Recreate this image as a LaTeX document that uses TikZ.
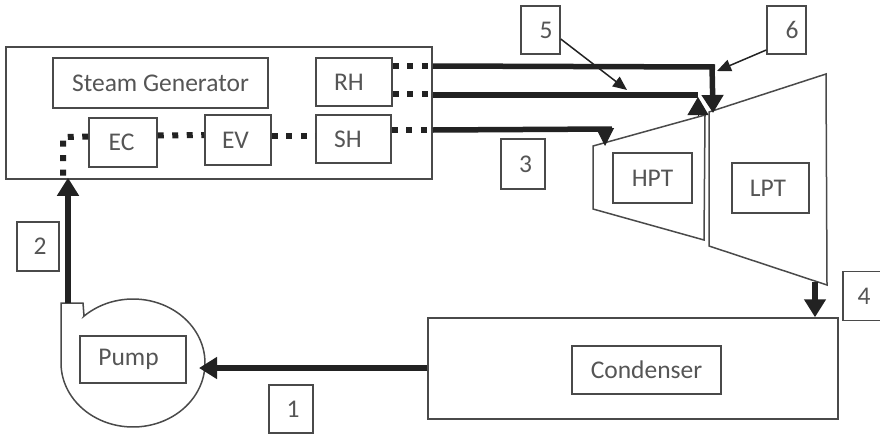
\documentclass[tikz,border=0pt]{standalone}
\usepackage{fontspec}
\setmainfont{Carlito}
\usetikzlibrary{arrows.meta,calc}
\definecolor{boxc}{HTML}{4A4A4A}
\definecolor{txtc}{HTML}{555555}
\definecolor{pipec}{HTML}{222222}
\tikzset{
 boxn/.style={draw=boxc,line width=1.5pt,inner sep=0pt,text=txtc,font=\fontsize{25.5}{28}\selectfont},
 thin outline/.style={draw=boxc,line width=1.5pt,line join=miter},
 dotpipe/.style={draw=pipec,line width=6pt,dash pattern=on 6pt off 8.5pt},
 pipe/.style={draw=pipec,line width=5.5pt},
 headed/.style={pipe,-{Triangle[width=21pt,length=18pt]}},
 pointer/.style={draw=pipec,line width=1.5pt,-{Triangle[width=12pt,length=14pt]}},
}
\begin{document}
\begin{tikzpicture}[x=1pt,y=-1pt]
\useasboundingbox (0,0) rectangle (880,434);
% outer containers
\node[boxn,minimum width=426pt,minimum height=132pt] (SG) at (219,113) {};
\node[boxn,minimum width=215pt,minimum height=50pt] (SGL) at (160.5,83) {Steam Generator};
\node[boxn,minimum width=76pt,minimum height=48pt] (RH) at (354,82) {\hspace*{-10pt}RH};
\node[boxn,minimum width=68pt,minimum height=49pt] (EC) at (123,142.5) {\hspace*{-3pt}EC};
\node[boxn,minimum width=66pt,minimum height=50pt] (EV) at (238,140) {\hspace*{-5pt}EV};
\node[boxn,minimum width=75pt,minimum height=48pt] (SH) at (353.5,139) {\hspace*{-11pt}SH};
\node[boxn,minimum width=410pt,minimum height=101pt] (CO) at (633,368.5) {};
\node[boxn,minimum width=149pt,minimum height=48pt] (COL) at (646.5,370) {Condenser};
\node[boxn,minimum width=79pt,minimum height=50pt] (HPT) at (652.5,178) {HPT};
\node[boxn,minimum width=77pt,minimum height=50pt] (LPT) at (770.5,188) {\hspace*{-5pt}LPT};
\node[boxn,minimum width=106pt,minimum height=47pt] (PU) at (133,359.5) {\hspace*{-9pt}Pump};
% number labels
\node[boxn,minimum width=44pt,minimum height=48pt] (L1) at (291,409) {\hspace*{4pt}1};
\node[boxn,minimum width=42pt,minimum height=49pt] (L2) at (38,246.5) {\hspace*{4pt}2};
\node[boxn,minimum width=44pt,minimum height=50pt] (L3) at (523,164) {\hspace*{5pt}3};
\node[boxn,minimum width=42pt,minimum height=49pt] (L4) at (864,296) {4};
\node[boxn,minimum width=39pt,minimum height=48pt] (L5) at (540.5,30) {\hspace*{11pt}5};
\node[boxn,minimum width=39pt,minimum height=48pt] (L6) at (786.5,30) {\hspace*{11pt}6};
% turbine and pump outlines
\draw[thin outline] (593,146) coordinate (hpA) -- (705,115) coordinate (hpB) -- (704,240) -- (593,209) -- cycle;
\draw[thin outline] (709,112) coordinate (lpA) -- (826,74) -- (827,285) coordinate (lpB) -- (709,246) -- cycle;
\draw[thin outline] (61,363) -- (61,303) -- (83,303) -- (84,316)
  -- plot[domain=133:-180,samples=90] ({133+72*cos(\x)},{363-64*sin(\x)});
\coordinate (puR) at (199,368);
\coordinate (puT) at (68,303);
\coordinate (lpOut) at (815,282);
% dotted internal piping
\draw[dotpipe] ([yshift=16pt]RH.east) -- ([yshift=16pt]RH.east -| SG.east);
\draw[dotpipe] ([yshift=-12pt]RH.east) -- ([yshift=-12pt]RH.east -| SG.east);
\draw[dotpipe] ([yshift=9pt]SH.east) -- ([yshift=9pt]SH.east -| SG.east);
\draw[dotpipe] (EC.east) ++(0,-7) -- (EV.west |- 0,135);
\draw[dotpipe] (EV.east) ++(0,-4) -- (SH.west |- 0,136);
\draw[dotpipe] (EC.west) ++(0,-6) -- (63,137) -- (63,178);
% thick piping
\draw[pipe] ([yshift=16pt]RH.east -| SG.east) -- (715,67) coordinate (c6);
\draw[headed] (712,65) -- (713,113) coordinate (tip6);
\draw[pipe] ([yshift=-13pt]RH.east -| SG.east) -- (698,95) coordinate (c5);
\draw[-{Triangle[width=21pt,length=18pt]},pipec,line width=1pt] (698,116) -- (698,97);
\draw[pipe] ([yshift=9pt]SH.east -| SG.east) -- (612,129);
\draw[-{Triangle[width=18pt,length=18pt]},pipec,line width=1pt] (605,128) -- (605,146) coordinate (hp3);
\draw[headed] (lpOut) -- (lpOut |- CO.north);
\draw[headed] (CO.west |- puR) -- (puR);
\draw[headed] (puT) -- ([yshift=2pt]puT |- SG.south);
% pointers
\draw[pointer] (L5.east) ++(0,9) -- (627,90);
\draw[pointer] (L6.west) ++(0,20) -- (717,71);
\end{tikzpicture}
\end{document}
